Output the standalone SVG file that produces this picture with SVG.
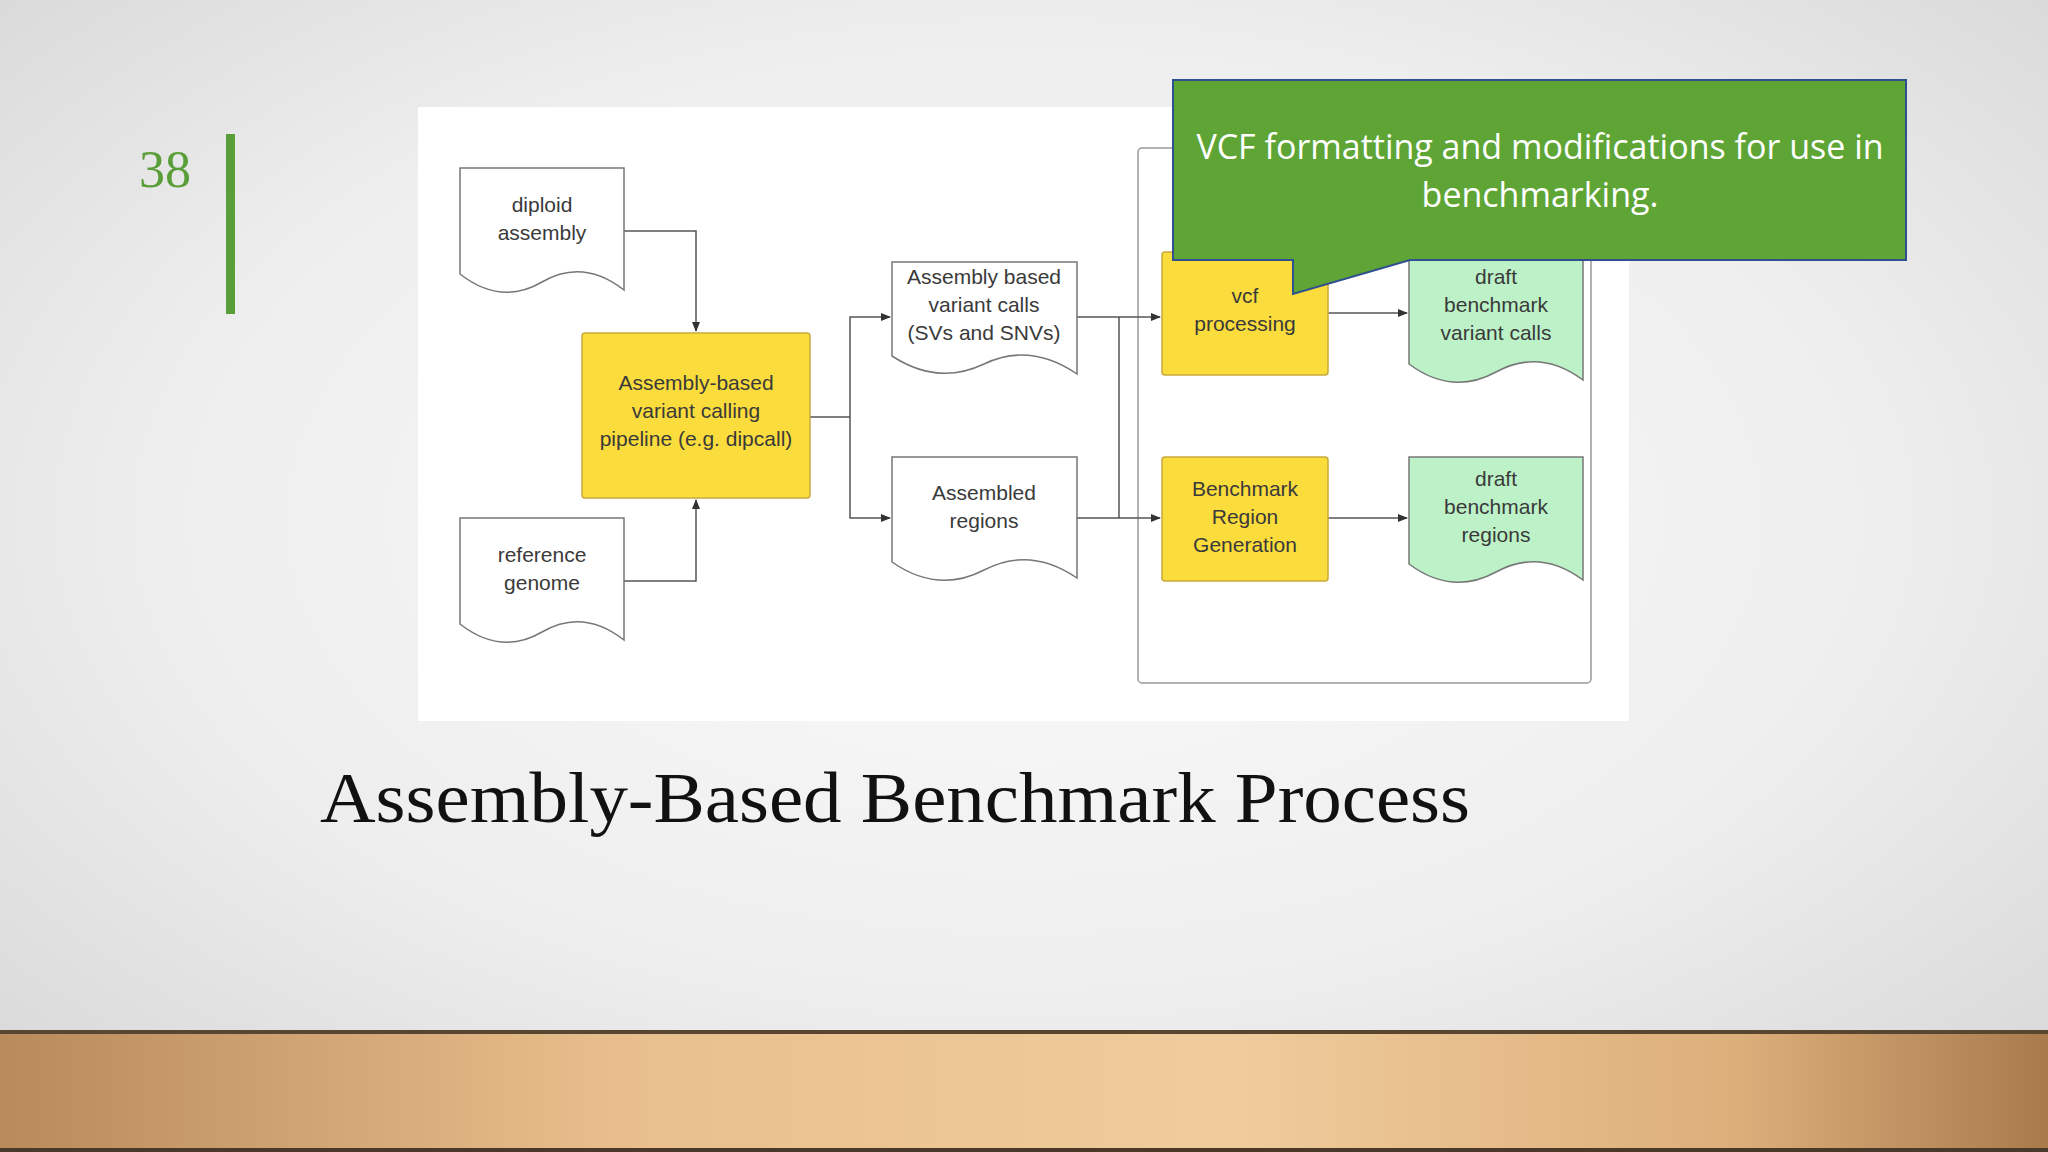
<svg xmlns="http://www.w3.org/2000/svg" width="2048" height="1152" viewBox="0 0 2048 1152">
<defs>
<radialGradient id="bg" cx="0.5" cy="0.45" r="0.7">
<stop offset="0" stop-color="#fbfbfb"/><stop offset="0.6" stop-color="#eeeeee"/><stop offset="1" stop-color="#d8d8d8"/>
</radialGradient>
<linearGradient id="wood" x1="0" y1="0" x2="1" y2="0">
<stop offset="0" stop-color="#b98a5a"/><stop offset="0.3" stop-color="#e8bf8c"/><stop offset="0.6" stop-color="#f0cc9c"/><stop offset="0.85" stop-color="#dcae7a"/><stop offset="1" stop-color="#a97a4c"/>
</linearGradient>
<marker id="ar" markerWidth="10" markerHeight="10" refX="9" refY="5" orient="auto" markerUnits="userSpaceOnUse">
<path d="M0,1 L10,5 L0,9 Z" fill="#333"/>
</marker>
<style>
.t{font-family:"Liberation Sans",Arial,sans-serif;font-size:21px;fill:#3a3a3a;text-anchor:middle}
.doc{fill:#fff;stroke:#777;stroke-width:1.5}
.gdoc{fill:#bdf2c8;stroke:#777;stroke-width:1.5}
.yb{fill:#fadc3c;stroke:#c9a93a;stroke-width:1.5}
.c{fill:none;stroke:#555;stroke-width:1.5}
</style>
</defs>
<rect width="2048" height="1152" fill="url(#bg)"/>
<rect x="0" y="1032" width="2048" height="120" fill="url(#wood)"/>
<rect x="0" y="1030" width="2048" height="4" fill="#5a4530"/>
<rect x="0" y="1148" width="2048" height="4" fill="#4a3828"/>
<text x="165" y="187" font-family="Liberation Serif,serif" font-size="52" fill="#5a9e3a" text-anchor="middle">38</text>
<rect x="226" y="134" width="9" height="180" fill="#5a9e3a"/>
<rect x="418" y="107" width="1211" height="614" fill="#fff"/>
<rect x="1138" y="148" width="453" height="535" rx="4" fill="none" stroke="#999" stroke-width="1.5"/>
<g id="connectors">
<path class="c" d="M624,231 H696 V331" marker-end="url(#ar)"/>
<path class="c" d="M624,581 H696 V500" marker-end="url(#ar)"/>
<path class="c" d="M810,417 H850"/>
<path class="c" d="M850,417 V317 H890" marker-end="url(#ar)"/>
<path class="c" d="M850,417 V518 H890" marker-end="url(#ar)"/>
<path class="c" d="M1077,317 H1160" marker-end="url(#ar)"/>
<path class="c" d="M1077,518 H1160" marker-end="url(#ar)"/>
<path class="c" d="M1119,317 V518"/>
<path class="c" d="M1328,313 H1407" marker-end="url(#ar)"/>
<path class="c" d="M1328,518 H1407" marker-end="url(#ar)"/>
</g>
<g id="diploid">
<path class="doc" d="M460,168 H624 V290 Q583,258 542,282 T460,274 Z"/>
<text class="t" x="542" y="212">diploid</text><text class="t" x="542" y="240">assembly</text>
</g>
<g id="reference">
<path class="doc" d="M460,518 H624 V640 Q583,608 542,632 T460,624 Z"/>
<text class="t" x="542" y="562">reference</text><text class="t" x="542" y="590">genome</text>
</g>
<g id="pipeline">
<rect class="yb" x="582" y="333" width="228" height="165" rx="3"/>
<text class="t" x="696" y="390">Assembly-based</text><text class="t" x="696" y="418">variant calling</text><text class="t" x="696" y="446">pipeline (e.g. dipcall)</text>
</g>
<g id="variantcalls">
<path class="doc" d="M892,262 H1077 V374 Q1030,342 984,364 T892,356 Z"/>
<text class="t" x="984" y="284">Assembly based</text><text class="t" x="984" y="312">variant calls</text><text class="t" x="984" y="340">(SVs and SNVs)</text>
</g>
<g id="assembledregions">
<path class="doc" d="M892,457 H1077 V578 Q1030,546 984,570 T892,562 Z"/>
<text class="t" x="984" y="500">Assembled</text><text class="t" x="984" y="528">regions</text>
</g>
<g id="vcfprocessing">
<rect class="yb" x="1162" y="252" width="166" height="123" rx="3"/>
<text class="t" x="1245" y="303">vcf</text><text class="t" x="1245" y="331">processing</text>
</g>
<g id="regiongen">
<rect class="yb" x="1162" y="457" width="166" height="124" rx="3"/>
<text class="t" x="1245" y="496">Benchmark</text><text class="t" x="1245" y="524">Region</text><text class="t" x="1245" y="552">Generation</text>
</g>
<g id="draftcalls">
<path class="gdoc" d="M1409,248 H1583 V380 Q1540,348 1496,372 T1409,364 Z"/>
<text class="t" x="1496" y="284">draft</text><text class="t" x="1496" y="312">benchmark</text><text class="t" x="1496" y="340">variant calls</text>
</g>
<g id="draftregions">
<path class="gdoc" d="M1409,457 H1583 V580 Q1540,548 1496,572 T1409,564 Z"/>
<text class="t" x="1496" y="486">draft</text><text class="t" x="1496" y="514">benchmark</text><text class="t" x="1496" y="542">regions</text>
</g>
<g id="callout">
<path d="M1173,80 H1906 V260 H1410 L1293,294 V260 H1173 Z" fill="#5ea536" stroke="#2f4f8f" stroke-width="2"/>
<text x="1540" y="159" font-family="Open Sans,sans-serif" font-size="34" fill="#fff" text-anchor="middle">VCF formatting and modifications for use in</text>
<text x="1540" y="207" font-family="Open Sans,sans-serif" font-size="34" fill="#fff" text-anchor="middle">benchmarking.</text>
</g>
<text x="320" y="822" font-family="Liberation Serif,serif" font-size="72" fill="#111" textLength="1150" lengthAdjust="spacingAndGlyphs">Assembly-Based Benchmark Process</text>
</svg>
